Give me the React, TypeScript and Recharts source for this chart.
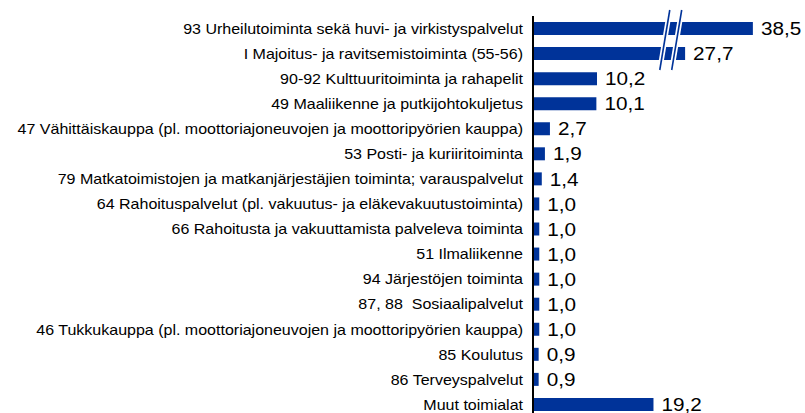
import React from "react";
import { BarChart, Bar, XAxis, YAxis, LabelList } from "recharts";

const categories = [
  "93 Urheilutoiminta sekä huvi- ja virkistyspalvelut",
  "I Majoitus- ja ravitsemistoiminta (55-56)",
  "90-92 Kulttuuritoiminta ja rahapelit",
  "49 Maaliikenne ja putkijohtokuljetus",
  "47 Vähittäiskauppa (pl. moottoriajoneuvojen ja moottoripyörien kauppa)",
  "53 Posti- ja kuriiritoiminta",
  "79 Matkatoimistojen ja matkanjärjestäjien toiminta; varauspalvelut",
  "64 Rahoituspalvelut (pl. vakuutus- ja eläkevakuutustoiminta)",
  "66 Rahoitusta ja vakuuttamista palveleva toiminta",
  "51 Ilmaliikenne",
  "94 Järjestöjen toiminta",
  "87, 88  Sosiaalipalvelut",
  "46 Tukkukauppa (pl. moottoriajoneuvojen ja moottoripyörien kauppa)",
  "85 Koulutus",
  "86 Terveyspalvelut",
  "Muut toimialat",
];

const values = [38.5, 27.7, 10.2, 10.1, 2.7, 1.9, 1.4, 1.0, 1.0, 1.0, 1.0, 1.0, 1.0, 0.9, 0.9, 19.2];

// broken axis: values above the break have a segment cut out
const BREAK_THRESHOLD = 20;
const BREAK_CUT = 3.46;
const broken = (v: number) => (v > BREAK_THRESHOLD ? v - BREAK_CUT : v);

const data = categories.map((name, i) => ({ name, value: values[i], display: broken(values[i]) }));

const W = 805;
const H = 417;
const LEFT = 533;
const RIGHT = 21;
const TOP = 16;
const X_MAX = 40;
const SX_CAT = 1.105;
const SX_VAL = 1.12;
const BLUE = "#003399";
const FONT = "'Liberation Sans', Arial, sans-serif";

const xPx = (v: number) => LEFT + (v * (W - LEFT - RIGHT)) / X_MAX;

const fmt = (v: number) => v.toFixed(1).replace(".", ",");

const CatTick = (props: any) => {
  const { x, y, payload } = props;
  return (
    <g transform={`translate(${x},${y}) scale(${SX_CAT},1)`}>
      <text
        x={0}
        y={0}
        dy="0.36em"
        textAnchor="end"
        fontSize={14.5}
        fontFamily={FONT}
        fill="#000"
        style={{ whiteSpace: "pre" }}
      >
        {payload.value}
      </text>
    </g>
  );
};

const ValueLabel = (props: any) => {
  const { x, y, width, height, value } = props;
  return (
    <g transform={`translate(${x + width + 8},${y + height / 2}) scale(${SX_VAL},1)`}>
      <text x={0} y={0} dy="0.36em" textAnchor="start" fontSize={18.5} fontFamily={FONT} fill="#000">
        {fmt(value)}
      </text>
    </g>
  );
};

const breakLines = [21.0, 22.9];

export default function App() {
  return (
    <div style={{ position: "absolute", left: 0, top: 0, width: W, height: 413, overflow: "hidden", background: "#fff" }}>
      <BarChart
        width={W}
        height={H}
        data={data}
        layout="vertical"
        margin={{ top: TOP, right: RIGHT, bottom: 0, left: 0 }}
      >
        <XAxis type="number" dataKey="display" domain={[0, X_MAX]} hide />
        <YAxis
          type="category"
          dataKey="name"
          width={LEFT}
          tickLine={false}
          tickSize={0}
          tickMargin={10}
          axisLine={{ stroke: "#000", strokeWidth: 2 }}
          tick={<CatTick />}
          interval={0}
        />
        <Bar dataKey="display" fill={BLUE} barSize={13} isAnimationActive={false}>
          <LabelList dataKey="value" content={<ValueLabel />} />
        </Bar>
      </BarChart>
      <svg width={W} height={413} style={{ position: "absolute", left: 0, top: 0, pointerEvents: "none" }}>
        {breakLines.map((v, i) => {
          const cx = xPx(v);
          return (
            <g key={i}>
              <line x1={cx + 5} y1={10} x2={cx - 5} y2={70} stroke="#fff" strokeWidth={5} />
              <line x1={cx + 5} y1={10} x2={cx - 5} y2={70} stroke={BLUE} strokeWidth={1.6} />
            </g>
          );
        })}
      </svg>
    </div>
  );
}
